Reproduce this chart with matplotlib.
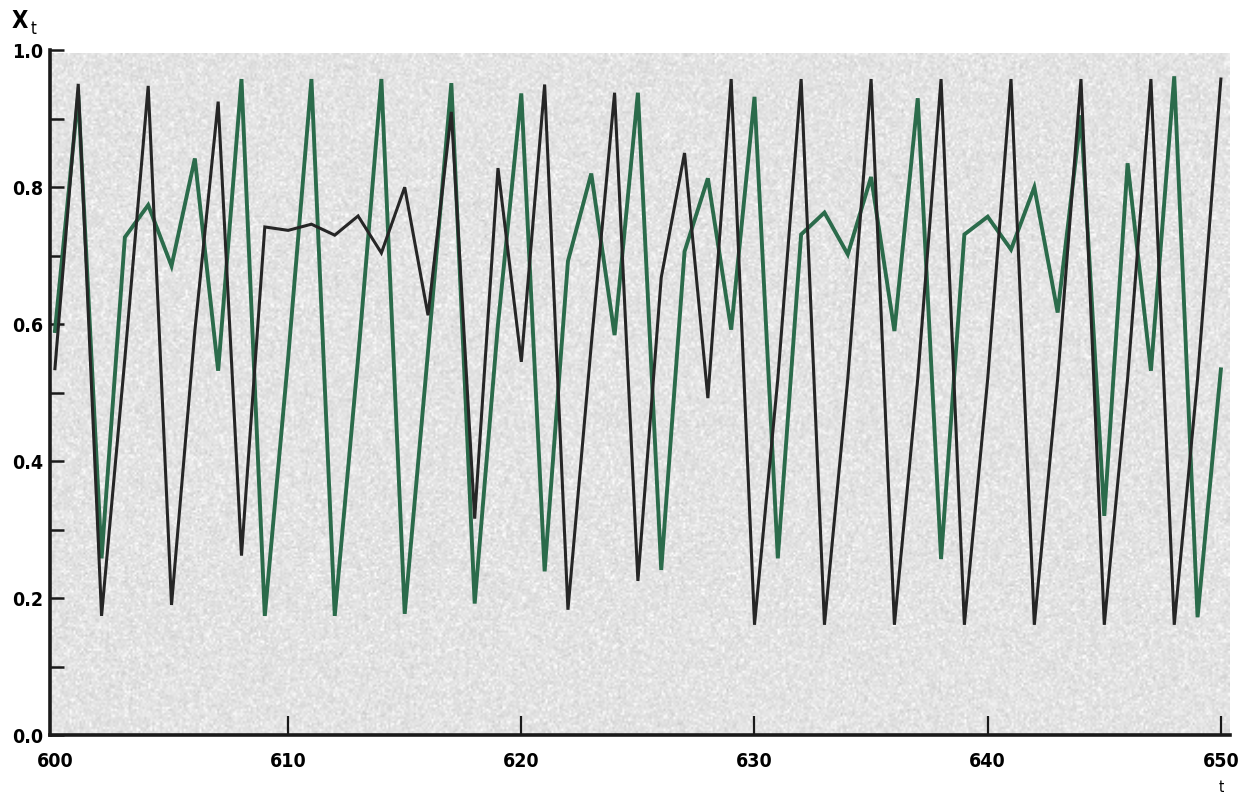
import numpy as np
import matplotlib
matplotlib.use('Agg')
import matplotlib.pyplot as plt

plt.rcParams['font.family'] = ['DejaVu Sans']
plt.rcParams['font.stretch'] = 'condensed'
plt.rcParams['font.weight'] = 'bold'

# time steps and the two trajectories
t = np.arange(600, 651)
x_black = [0.535, 0.951, 0.174, 0.55, 0.948, 0.19, 0.59, 0.925, 0.262, 0.742,
           0.737, 0.746, 0.730, 0.758, 0.704, 0.800, 0.613, 0.910, 0.316, 0.828,
           0.545, 0.950, 0.183, 0.57, 0.938, 0.225, 0.668, 0.850, 0.492, 0.958,
           0.161, 0.52, 0.958, 0.161, 0.52, 0.958, 0.161, 0.52, 0.958, 0.161,
           0.52, 0.958, 0.161, 0.52, 0.958, 0.161, 0.52, 0.958, 0.161, 0.52,
           0.958]
x_green = [0.59, 0.935, 0.258, 0.727, 0.774, 0.685, 0.842, 0.532, 0.958, 0.174,
           0.55, 0.958, 0.174, 0.55, 0.958, 0.177, 0.56, 0.952, 0.192, 0.60,
           0.937, 0.239, 0.692, 0.820, 0.584, 0.938, 0.241, 0.706, 0.813, 0.592,
           0.932, 0.258, 0.731, 0.763, 0.702, 0.815, 0.590, 0.930, 0.257, 0.731,
           0.757, 0.709, 0.800, 0.617, 0.905, 0.320, 0.835, 0.532, 0.962, 0.172,
           0.534]

xticks = [600, 610, 620, 630, 640, 650]
yticks_major = [0.0, 0.2, 0.4, 0.6, 0.8, 1.0]
yticks_minor = [0.1, 0.3, 0.5, 0.7, 0.9]

fig = plt.figure(figsize=(12.57, 7.98), dpi=100)
ax = fig.add_axes([0.0398, 0.0789, 0.9387, 0.8581])

ax.set_xlim(599.79, 650.39)
ax.set_ylim(0, 1.0)

# grainy printed background
rng = np.random.default_rng(3)
grain = 0.885 + 0.03 * rng.standard_normal((340, 600))
grain += 0.07 * (rng.random((340, 600)) > 0.9)
ax.imshow(np.clip(grain, 0, 1), cmap='gray', vmin=0, vmax=1, aspect='auto',
          extent=[599.79, 650.39, 0, 0.995], interpolation='bilinear', zorder=0)

ax.plot(t, x_green, color='#2b6b4b', lw=2.8, zorder=2, solid_joinstyle='miter')
ax.plot(t, x_black, color='#262626', lw=2.2, zorder=3, solid_joinstyle='miter')

for s in ['top', 'right']:
    ax.spines[s].set_visible(False)
for s in ['left', 'bottom']:
    ax.spines[s].set_linewidth(2.6)
    ax.spines[s].set_color('#1a1a1a')

ax.set_xticks(xticks)
ax.set_xticklabels([str(v) for v in xticks], fontsize=14, fontweight='bold')
ax.set_yticks(yticks_major)
ax.set_yticklabels([f'{v:.1f}' for v in yticks_major], fontsize=14, fontweight='bold')
ax.set_yticks(yticks_minor, minor=True)
ax.tick_params(axis='x', direction='in', length=14, width=1.6, pad=12, color='#1a1a1a')
ax.tick_params(axis='y', which='both', direction='in', length=10, width=1.8, pad=5, color='#1a1a1a')
# the first x tick sits on the spine, so hide its mark
ax.xaxis.get_major_ticks()[0].tick1line.set_visible(False)

fig.text(0.009, 0.965, 'X', fontsize=17, fontweight='bold', ha='left', va='baseline')
fig.text(0.024, 0.958, 't', fontsize=12, fontweight='normal', ha='left', va='baseline')
fig.text(0.972, 0.008, 't', fontsize=11, fontweight='normal', ha='center', va='baseline')

fig.savefig('out.png', dpi=100)
